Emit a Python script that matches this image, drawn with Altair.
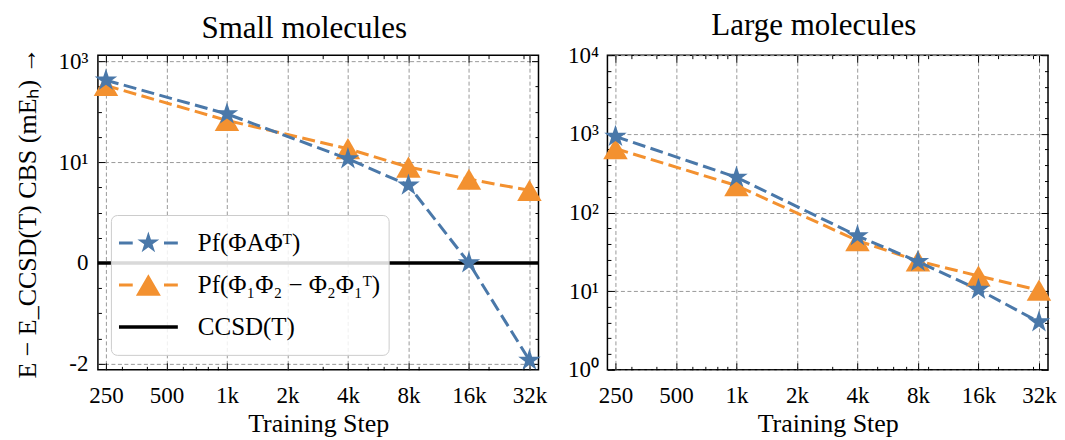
import math
import altair as alt
import pandas as pd

FONT = "Liberation Serif"
BLUE = "#4a78a9"
ORANGE = "#f39130"

# ---------------- data ----------------
steps = [250, 1000, 4000, 8000, 16000, 32000]
small_pf_a = [420, 90, 11.6, 7.7, 0.0, -1.93]
small_pf_12 = [330, 67, 18.4, 9.5, 8.3, 7.2]
large_pf_a = [926, 280, 50.5, 23.8, 10.5, 4.06]
large_pf_12 = [650, 220, 44, 24.2, 15.6, 10.3]
ccsd_ref = [0.0]

series_names = ["Pf(ΦAΦᵀ)", "Pf(Φ₁Φ₂ − Φ₂Φ₁ᵀ)", "CCSD(T)"]

x_ticks = [250, 500, 1000, 2000, 4000, 8000, 16000, 32000]
x_tick_labels = ["250", "500", "1k", "2k", "4k", "8k", "16k", "32k"]
x_minor = [300, 400, 600, 700, 800, 900, 3000, 5000, 6000, 7000, 9000, 20000, 30000]

small_y_ticks = [2, 1, 0, -1]
small_y_labels = ["10³", "10¹", "0", "-2"]
small_y_minor = [-0.75, -0.5, -0.25, 0.25, 0.5, 0.75, 1.25, 1.5, 1.75]

large_y_ticks = [1, 10, 100, 1000, 10000]
large_y_labels = ["10⁰", "10¹", "10²", "10³", "10⁴"]
large_y_minor = [1.585, 2.512, 3.981, 6.310, 15.85, 25.12, 39.81, 63.10,
                 158.5, 251.2, 398.1, 631.0, 1585, 2512, 3981, 6310]

W, H = 441, 315

# symlog-like transform for the small-molecule panel (evaluated by Vega)
T_EXPR = ("datum.v >= 10 ? 1 + log(datum.v / 10) / log(10) / 2 : "
          "(datum.v >= 0 ? datum.v / 10 : datum.v / 2)")


def label_expr(vals, labels):
    parts = [f"datum.value == {v} ? '{l}'" for v, l in zip(vals, labels)]
    return " : ".join(parts) + " : ''"


def star_path(R, cx=0.0, cy=0.0):
    r = R * 0.381966
    pts = []
    for i in range(10):
        ang = math.radians(-90 + 36 * i)
        rad = R if i % 2 == 0 else r
        pts.append((cx + rad * math.cos(ang), cy + rad * math.sin(ang)))
    return "M" + " L".join(f"{x:.4f},{y:.4f}" for x, y in pts) + " Z"


def rect(x0, y0, x1, y1):
    return f"M{x0:.4f},{y0:.4f} L{x1:.4f},{y0:.4f} L{x1:.4f},{y1:.4f} L{x0:.4f},{y1:.4f} Z"


S = 29.5  # half-width of legend symbol in px
dh = 1.5 / S
leg_blue = rect(-1, -dh, -0.53, dh) + " " + star_path(11.5 / S) + " " + rect(0.53, -dh, 1, dh)
tw, th = 12.5 / S, 10.8 / S
leg_orange = (rect(-1, -dh, -0.53, dh) + f" M0,{-th:.4f} L{-tw:.4f},{th:.4f} L{tw:.4f},{th:.4f} Z "
              + rect(0.53, -dh, 1, dh))
leg_black = rect(-1, -1.75 / S, 1, 1.75 / S)

STAR = star_path(1.0)

xscale = alt.Scale(type="log", domain=[228, 35500], nice=False)


def panel(df, yfield, yscale, yticks, ylabels, yminor, ytitle, title, extra_layers,
          legend_layer=None, y_label_pad=10):
    base = alt.Chart()
    layers = []
    # labels + grid
    layers.append(base.mark_point(opacity=0).encode(
        x=alt.X("step:Q", scale=xscale, axis=alt.Axis(
            orient="bottom", values=x_ticks, labelExpr=label_expr(x_ticks, x_tick_labels),
            grid=True, ticks=False, domain=False, labelPadding=15, labelFlush=False,
            labelOverlap=False, title="Training Step", titlePadding=3)),
        y=alt.Y(f"{yfield}:Q", scale=yscale, axis=alt.Axis(
            orient="left", values=yticks, labelExpr=label_expr(yticks, ylabels),
            grid=True, ticks=False, domain=False, labelPadding=y_label_pad, labelFlush=False,
            labelOverlap=False, title=ytitle, titlePadding=18)),
    ))
    # inward ticks
    for xo, yo, size, xv, yv in [("bottom", "left", 7, x_ticks, yticks),
                                 ("top", "right", 7, x_ticks, yticks),
                                 ("bottom", "left", 3.5, x_minor, yminor),
                                 ("top", "right", 3.5, x_minor, yminor)]:
        layers.append(base.mark_point(opacity=0).encode(
            x=alt.X("step:Q", scale=xscale, axis=alt.Axis(
                orient=xo, values=xv, labels=False, grid=False, domain=False,
                ticks=True, tickSize=size, offset=-size, title=None)),
            y=alt.Y(f"{yfield}:Q", scale=yscale, axis=alt.Axis(
                orient=yo, values=yv, labels=False, grid=False, domain=False,
                ticks=True, tickSize=size, offset=-size, title=None)),
        ))
    layers.extend(extra_layers)
    # data
    for name, color, shape, size in [(series_names[1], ORANGE, "triangle-up", 600),
                                      (series_names[0], BLUE, STAR, 560)]:
        sub = base.transform_filter(alt.datum.series == name)
        enc = dict(x=alt.X("step:Q", scale=xscale, axis=None),
                   y=alt.Y(f"{yfield}:Q", scale=yscale, axis=None))
        layers.append(sub.mark_line(color=color, strokeWidth=3, strokeDash=[13, 5.5]).encode(**enc))
        layers.append(sub.mark_point(filled=True, opacity=1, color=color, shape=shape,
                                     size=size, strokeWidth=0).encode(**enc))
    if legend_layer is not None:
        layers.append(legend_layer)
    ch = alt.layer(*layers, data=df)
    if yfield == "t":
        ch = ch.transform_calculate(t=T_EXPR)
    return ch.resolve_axis(x="independent", y="independent").properties(
        width=W, height=H, title=alt.Title(title, offset=2, dx=-14))


small_df = pd.DataFrame({
    "step": steps * 2,
    "v": small_pf_a + small_pf_12,
    "series": [series_names[0]] * len(steps) + [series_names[1]] * len(steps),
})
large_df = pd.DataFrame({
    "step": steps * 2,
    "v": large_pf_a + large_pf_12,
    "series": [series_names[0]] * len(steps) + [series_names[1]] * len(steps),
})

y_small = alt.Scale(domain=[-1.06, 2.06], nice=False, zero=False)
y_large = alt.Scale(type="log", domain=[1, 10000], nice=False)

ccsd_layer = alt.Chart(pd.DataFrame({"v": ccsd_ref})).transform_calculate(t=T_EXPR).mark_rule(
    color="black", strokeWidth=3.5).encode(y=alt.Y("t:Q", scale=y_small, axis=None))

leg = alt.Legend(orient="none", legendX=13, legendY=160, title=None,
                 symbolSize=59 * 59, clipHeight=40, rowPadding=2, padding=8,
                 labelFont=FONT, labelFontSize=25, labelOffset=20, labelLimit=400,
                 symbolStrokeWidth=0, symbolOpacity=1,
                 fillColor="rgba(255,255,255,0.85)", strokeColor="#cccccc", cornerRadius=6)
legend_layer = alt.Chart(pd.DataFrame({"name": series_names})).mark_point(
    filled=True, opacity=0).encode(
    shape=alt.Shape("name:N", scale=alt.Scale(domain=series_names,
                                              range=[leg_blue, leg_orange, leg_black]), legend=leg),
    color=alt.Color("name:N", scale=alt.Scale(domain=series_names,
                                              range=[BLUE, ORANGE, "black"]), legend=leg),
)

left = panel(small_df, "t", y_small, small_y_ticks, small_y_labels, small_y_minor,
             "E − E_CCSD(T) CBS (mEₕ) →", "Small molecules", [ccsd_layer], legend_layer)
right = panel(large_df, "v", y_large, large_y_ticks, large_y_labels, large_y_minor,
              None, "Large molecules", [], y_label_pad=9)

chart = alt.hconcat(left, right, spacing=19).resolve_scale(
    x="independent", y="independent", color="independent", shape="independent"
).properties(padding={"left": 5, "top": 1, "right": 0, "bottom": 0}).configure_axis(
    labelFont=FONT, titleFont=FONT, labelFontSize=23, titleFontSize=26,
    titleFontWeight="normal", labelColor="black", titleColor="black",
    gridColor="#9a9a9a", gridDash=[4, 2.5], gridWidth=1, tickColor="black", tickWidth=1,
).configure_title(font=FONT, fontSize=31, fontWeight="normal", color="black"
).configure_view(stroke="black", strokeWidth=1.5)

chart.save("out.html", embed_options={"renderer": "svg", "actions": False})
